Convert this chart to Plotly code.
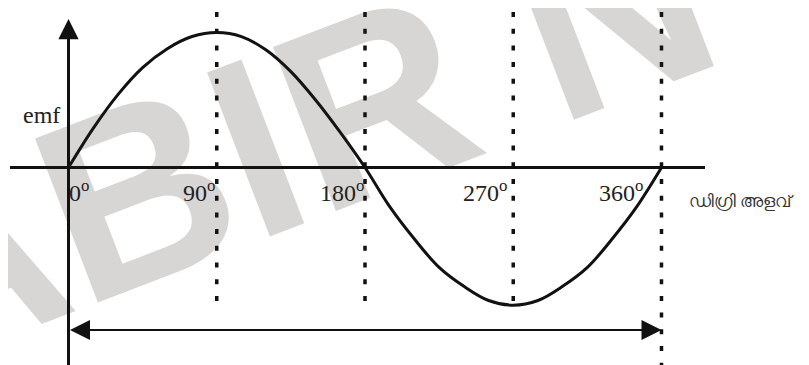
import plotly.graph_objects as go

# emf curve, every 15 degrees
degrees = [0, 15, 30, 45, 60, 75, 90, 105, 120, 135, 150, 165, 180,
           195, 210, 225, 240, 255, 270, 285, 300, 315, 330, 345, 360]
emf = [0, 0.29, 0.54, 0.74, 0.88, 0.97, 1.0, 0.97, 0.87, 0.71, 0.50, 0.26, 0,
       -0.29, -0.53, -0.74, -0.88, -0.985, -1.02, -0.985, -0.88, -0.74, -0.53, -0.29, 0]

# dashed guide lines
guide_x = [90, 180, 270, 360]
guide_bottom = [-0.996, -0.996, -0.996, -1.53]
guide_top = 1.152

tick_values = [0, 90, 180, 270, 360]
tick_labels = ["0", "90", "180", "270", "360"]
tick_shift = [22, 0, 1, -4, -16]   # pixel nudge of each label's right edge

y_label = "emf"
x_label = "ഡിഗ്രി അളവ്"
watermark = "ABIR N"

ink = "#111111"
serif = "Liberation Serif"

# the page body adds an 8px offset, so the axes are shifted to make up for it
px_per_deg = 1.6472
px_per_emf = 135.0
x0_px = 68.5 - 8
y0_px = 167.5 - 8


def to_deg(px):
    return (px - 68.5) / px_per_deg


def to_emf(py):
    return (167.5 - py) / px_per_emf


fig = go.Figure()

for gx, gb in zip(guide_x, guide_bottom):
    fig.add_trace(go.Scatter(x=[gx, gx], y=[guide_top, gb], mode="lines",
                             line=dict(color=ink, width=3.5, dash="5px,11.7px"),
                             hoverinfo="skip", showlegend=False))

fig.add_trace(go.Scatter(x=degrees, y=emf, mode="lines",
                         line=dict(color=ink, width=3, shape="spline", smoothing=1.0),
                         showlegend=False))

# horizontal axis
fig.add_shape(type="line", x0=to_deg(10), x1=to_deg(705), y0=0, y1=0,
              line=dict(color=ink, width=3))

annotations = []
# watermark (dark but mostly transparent, so black ink stays black)
annotations.append(dict(x=to_deg(288), y=to_emf(134), xref="x", yref="y", text=watermark,
                        showarrow=False, textangle=-21,
                        font=dict(family="Liberation Sans", size=255, weight="bold",
                                  color="rgba(50,35,25,0.19)")))

# vertical axis with arrow head
annotations.append(dict(x=0, y=to_emf(19), ax=0, ay=-1.52, xref="x", yref="y",
                        axref="x", ayref="y", text="", showarrow=True,
                        arrowhead=2, arrowsize=1.35, arrowwidth=3, arrowcolor=ink))

# double arrow 0..360
annotations.append(dict(x=360, y=to_emf(330), ax=0, ay=to_emf(330), xref="x", yref="y",
                        axref="x", ayref="y", text="", showarrow=True,
                        arrowhead=2, startarrowhead=2, arrowside="end+start",
                        arrowsize=2, startarrowsize=2, arrowwidth=2, arrowcolor=ink))

for tv, tl, ts in zip(tick_values, tick_labels, tick_shift):
    annotations.append(dict(x=tv, y=to_emf(191), xref="x", yref="y",
                            text=tl + "<sup>o</sup>", showarrow=False,
                            xanchor="right", yanchor="middle", xshift=ts,
                            font=dict(family=serif, size=24, color="#222222")))

annotations.append(dict(x=to_deg(62), y=to_emf(115), xref="x", yref="y", text=y_label,
                        showarrow=False, xanchor="right", yanchor="middle",
                        font=dict(family=serif, size=24, color="#222222")))

annotations.append(dict(x=to_deg(687), y=to_emf(200), xref="x", yref="y", text=x_label,
                        showarrow=False, xanchor="left", yanchor="middle",
                        font=dict(family="Noto Sans, sans-serif", size=17, color="#333333")))

fig.update_layout(
    width=809, height=365,
    margin=dict(l=0, r=0, t=0, b=0),
    paper_bgcolor="white", plot_bgcolor="white",
    annotations=annotations,
    xaxis=dict(range=[-x0_px / px_per_deg, (809 - x0_px) / px_per_deg],
               visible=False, fixedrange=True),
    yaxis=dict(range=[(y0_px - 365) / px_per_emf, y0_px / px_per_emf],
               visible=False, fixedrange=True),
)

fig.write_html("out.html")
